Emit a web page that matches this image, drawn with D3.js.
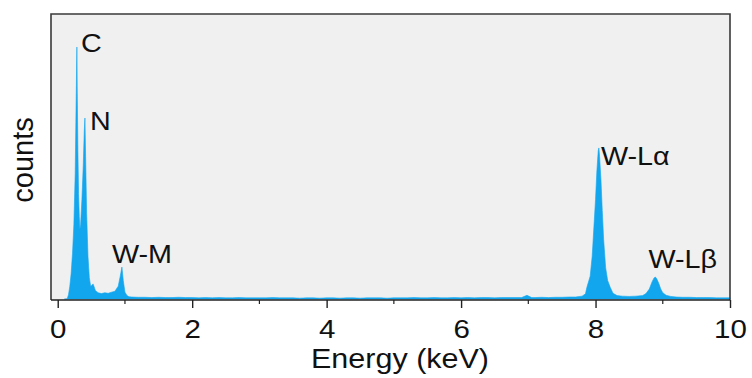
<!DOCTYPE html>
<html lang="en">
<head>
<meta charset="UTF-8">
<title>EDS spectrum</title>
<script src="https://d3js.org/d3.v7.min.js"></script>
<style>
  body { margin: 0; padding: 0; background: #ffffff; }
  text { font-family: "Liberation Sans", Arial, sans-serif; fill: #111; }
</style>
</head>
<body>
<svg width="752" height="378"></svg>
<script>
// spectrum, [keV, counts] (arbitrary units, 100 = top of frame)
const lightElements = [
  [0.10, 0], [0.14, 0], [0.16, 1.5], [0.18, 4.5], [0.20, 9], [0.22, 16],
  [0.24, 26], [0.26, 44], [0.27, 62], [0.28, 80], [0.285, 88.4], [0.29, 74],
  [0.30, 52], [0.31, 37], [0.32, 29], [0.33, 24.5], [0.34, 26], [0.36, 35],
  [0.38, 47], [0.395, 59], [0.405, 63.5], [0.415, 50], [0.43, 30], [0.45, 15],
  [0.47, 7.5], [0.49, 4.5], [0.51, 4.8], [0.525, 5.3], [0.54, 4.4], [0.56, 3],
  [0.60, 2.2], [0.65, 1.9], [0.70, 2.2], [0.75, 2.0], [0.80, 2.4], [0.85, 2.7],
  [0.90, 4.5], [0.93, 8], [0.955, 11.2], [0.975, 6.5], [1.00, 2.4], [1.03, 1.2],
  [1.06, 0.8]
];
const background = [
  [1.1, 0.7], [1.2, 0.6], [1.3, 0.6], [1.4, 0.5], [1.5, 0.6], [1.6, 0.5],
  [1.7, 0.5], [1.8, 0.6], [1.9, 0.5], [2.0, 0.5], [2.1, 0.4], [2.2, 0.5],
  [2.3, 0.4], [2.4, 0.5], [2.5, 0.4], [2.6, 0.4], [2.7, 0.5], [2.8, 0.4],
  [2.9, 0.4], [3.0, 0.4], [3.1, 0.4], [3.2, 0.5], [3.3, 0.4], [3.4, 0.4],
  [3.5, 0.4], [3.6, 0.3], [3.7, 0.4], [3.8, 0.4], [3.9, 0.3], [4.0, 0.4],
  [4.1, 0.4], [4.2, 0.3], [4.3, 0.4], [4.4, 0.4], [4.5, 0.3], [4.6, 0.4],
  [4.7, 0.4], [4.8, 0.4], [4.9, 0.3], [5.0, 0.4], [5.1, 0.4], [5.2, 0.4],
  [5.3, 0.5], [5.4, 0.4], [5.5, 0.4], [5.6, 0.5], [5.7, 0.4], [5.8, 0.4],
  [5.9, 0.5], [6.0, 0.4], [6.1, 0.5], [6.2, 0.4], [6.3, 0.5], [6.4, 0.5],
  [6.5, 0.4], [6.6, 0.5], [6.7, 0.5], [6.8, 0.5], [6.9, 0.5], [6.98, 1.3],
  [7.05, 0.5], [7.1, 0.5], [7.2, 0.6], [7.3, 0.5], [7.4, 0.6], [7.5, 0.6],
  [7.6, 0.7], [7.7, 0.7]
];
const tungstenL = [
  [7.80, 1.0], [7.85, 1.8], [7.87, 4], [7.92, 8], [7.95, 15], [7.98, 27],
  [8.00, 35], [8.02, 45], [8.04, 52], [8.05, 53], [8.06, 50], [8.08, 42],
  [8.10, 31], [8.12, 21], [8.15, 11], [8.18, 6.5], [8.22, 4], [8.26, 2],
  [8.32, 1.2], [8.40, 1.0], [8.50, 0.9], [8.60, 1.0], [8.70, 1.2], [8.75, 1.9],
  [8.80, 3.5], [8.84, 6], [8.87, 7.4], [8.89, 7.7], [8.91, 7.1], [8.94, 5.5],
  [8.97, 3.5], [9.00, 2.2], [9.05, 1.3], [9.12, 0.9]
];
const tail = [
  [9.2, 0.7], [9.3, 0.6], [9.4, 0.6], [9.5, 0.5], [9.6, 0.5], [9.7, 0.5],
  [9.8, 0.4], [9.9, 0.4], [10.0, 0.4]
];

const peakNames = ["C", "N", "W-M", "W-L\u03b1", "W-L\u03b2"];
const peakKeV = [0.285, 0.405, 0.955, 8.05, 8.89];
const peakCounts = [88.4, 63.5, 11.2, 53, 7.7];

const majorTicks = [0, 2, 4, 6, 8, 10];
const minorTicks = [1, 3, 5, 7, 9];

const spectrum = lightElements.concat(background, tungstenL, tail);

const svg = d3.select("svg");
const plotLeft = 51, plotRight = 730, plotTop = 14, plotBottom = 300;

const x = d3.scaleLinear().domain([-0.1, 10]).range([plotLeft, plotRight]);
const y = d3.scaleLinear().domain([0, 100]).range([plotBottom - 1, plotTop]);

// plot background
svg.append("rect")
  .attr("x", plotLeft).attr("y", plotTop)
  .attr("width", plotRight - plotLeft).attr("height", plotBottom - plotTop)
  .attr("fill", "#f0f0f0");

// spectrum
const area = d3.area()
  .x(d => x(d[0]))
  .y0(y(0))
  .y1(d => y(d[1]));

svg.append("path")
  .datum(spectrum)
  .attr("d", area)
  .attr("fill", "#12a6ee")
  .attr("stroke", "#12a6ee")
  .attr("stroke-width", 0.6);

// frame: left, top, right
svg.append("path")
  .attr("d", `M${plotLeft},${plotBottom}V${plotTop}H${plotRight}V${plotBottom}`)
  .attr("fill", "none")
  .attr("stroke", "#3a3a3a")
  .attr("stroke-width", 1.6);

// bottom axis
const xAxis = d3.axisBottom(x)
  .tickValues(majorTicks)
  .tickSize(8)
  .tickSizeOuter(0)
  .tickFormat(d3.format("d"));

const gx = svg.append("g")
  .attr("transform", `translate(0,${plotBottom})`)
  .call(xAxis);
gx.select(".domain").attr("stroke", "#222").attr("stroke-width", 1.6)
  .attr("d", `M${plotLeft},0H${plotRight}`);
gx.selectAll(".tick line").attr("stroke", "#222").attr("stroke-width", 1.4);
gx.selectAll(".tick text")
  .attr("font-size", 25)
  .attr("font-family", "Liberation Sans, Arial, sans-serif")
  .attr("fill", "#111")
  .attr("y", 0).attr("dy", 0)
  .attr("transform", "translate(0,38) scale(1.18,1)");

svg.append("g").selectAll("line")
  .data(minorTicks)
  .join("line")
  .attr("x1", d => x(d)).attr("x2", d => x(d))
  .attr("y1", plotBottom).attr("y2", plotBottom + 4)
  .attr("stroke", "#222").attr("stroke-width", 1.2);

// axis titles
svg.append("text")
  .attr("transform", "translate(400,368) scale(1.13,1)")
  .attr("text-anchor", "middle")
  .attr("font-size", 27)
  .text("Energy (keV)");

svg.append("text")
  .attr("transform", "translate(33,160) rotate(-90)")
  .attr("text-anchor", "middle")
  .attr("font-size", 29)
  .text("counts");

// peak labels, placed relative to the peak tops
const labelOffset = [[4, 5], [5, 12], [-10, -4], [2, 17], [-7, -9.5]];
svg.append("g").selectAll("text")
  .data(peakNames)
  .join("text")
  .attr("transform", (d, i) =>
    `translate(${x(peakKeV[i]) + labelOffset[i][0]},${y(peakCounts[i]) + labelOffset[i][1]}) scale(1.15,1)`)
  .attr("font-size", 25)
  .text(d => d);
</script>
</body>
</html>
